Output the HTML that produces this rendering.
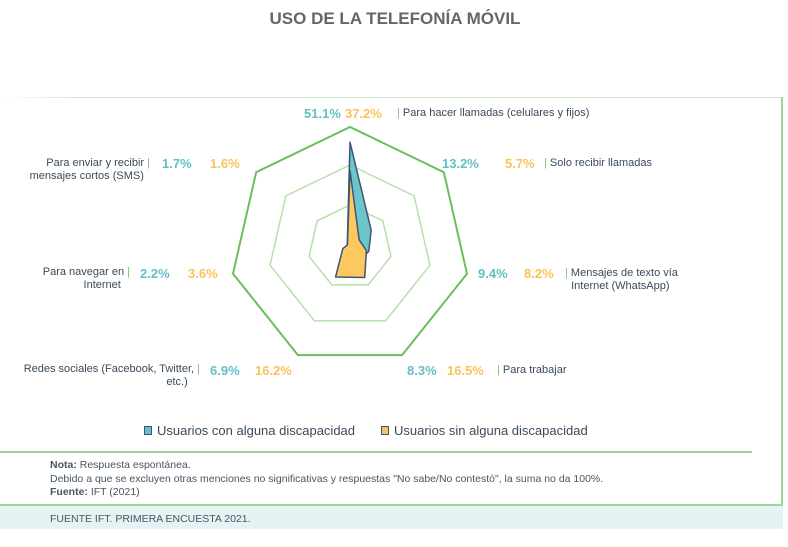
<!DOCTYPE html>
<html><head><meta charset="utf-8"><style>
body{margin:0;width:788px;height:547px;background:#fff;font-family:"Liberation Sans",sans-serif;overflow:hidden;position:relative}
.t{position:absolute;white-space:nowrap;font-size:11px;color:#3a4a5a;line-height:13px}
.p{position:absolute;font-size:13px;font-weight:bold;white-space:nowrap}
.tl{color:#62bfc6}.or{color:#f9c25a}
</style></head><body>
<div style="position:absolute;top:9px;left:0;width:790px;text-align:center;font-size:17px;font-weight:bold;color:#666">USO DE LA TELEFONÍA MÓVIL</div>
<div style="position:absolute;left:0;top:97px;width:782px;height:1px;background:linear-gradient(90deg,#fff,#cfe8cc 10%,#cfe8cc)"></div>
<div style="position:absolute;left:781px;top:97px;width:2px;height:408px;background:#9fd49a"></div>
<div style="position:absolute;left:0;top:451px;width:752px;height:2px;background:#9fd49a"></div>
<div style="position:absolute;left:0;top:504px;width:783px;height:2px;background:#9fd49a"></div>
<div style="position:absolute;left:0;top:506px;width:783px;height:23px;background:#e4f3f3"></div>
<svg id="radar" width="788" height="547" style="position:absolute;left:0;top:0"></svg>

<div class="p tl" style="left:304px;top:106px">51.1%</div><div class="p or" style="left:345px;top:106px">37.2%</div>
<div class="t" style="left:397px;top:107px"><span style="color:#7cc36a">|</span> Para hacer llamadas (celulares y fijos)</div>
<div class="p tl" style="left:442px;top:156px">13.2%</div><div class="p or" style="left:505px;top:156px">5.7%</div>
<div class="t" style="left:544px;top:157px"><span style="color:#7cc36a">|</span> Solo recibir llamadas</div>
<div class="p tl" style="left:478px;top:266px">9.4%</div><div class="p or" style="left:524px;top:266px">8.2%</div>
<div class="t" style="left:565px;top:267px"><span style="color:#7cc36a">|</span> Mensajes de texto vía<br>&nbsp;&nbsp;Internet (WhatsApp)</div>
<div class="p tl" style="left:407px;top:363px">8.3%</div><div class="p or" style="left:447px;top:363px">16.5%</div>
<div class="t" style="left:497px;top:364px"><span style="color:#7cc36a">|</span> Para trabajar</div>
<div class="t" style="right:588px;top:363px;text-align:right">Redes sociales (Facebook, Twitter, <span style="color:#7cc36a">|</span><br>etc.)&nbsp;&nbsp;&nbsp;&nbsp;</div>
<div class="p tl" style="left:210px;top:363px">6.9%</div><div class="p or" style="left:255px;top:363px">16.2%</div>
<div class="t" style="right:658px;top:266px;text-align:right">Para navegar en <span style="color:#7cc36a">|</span><br>Internet&nbsp;&nbsp;&nbsp;</div>
<div class="p tl" style="left:140px;top:266px">2.2%</div><div class="p or" style="left:188px;top:266px">3.6%</div>
<div class="t" style="right:638px;top:157px;text-align:right">Para enviar y recibir <span style="color:#7cc36a">|</span><br>mensajes cortos (SMS)&nbsp;&nbsp;</div>
<div class="p tl" style="left:162px;top:156px">1.7%</div><div class="p or" style="left:210px;top:156px">1.6%</div>

<div style="position:absolute;left:144px;top:423px;font-size:13px;color:#3a4a5a;white-space:nowrap"><span style="display:inline-block;width:6px;height:7px;background:#62bfc6;border:1px solid #3d5677;margin-right:5px"></span>Usuarios con alguna discapacidad</div>
<div style="position:absolute;left:381px;top:423px;font-size:13px;color:#3a4a5a;white-space:nowrap"><span style="display:inline-block;width:6px;height:7px;background:#f9c25a;border:1px solid #3d5677;margin-right:5px"></span>Usuarios sin alguna discapacidad</div>

<div class="t" style="left:50px;top:459px;font-size:10.5px;line-height:13.5px;color:#4a5560"><b>Nota:</b> Respuesta espontánea.<br>Debido a que se excluyen otras menciones no significativas y respuestas "No sabe/No contestó", la suma no da 100%.<br><b>Fuente:</b> IFT (2021)</div>
<div class="t" style="left:50px;top:513px;font-size:10.5px;color:#4a5560">FUENTE IFT. PRIMERA ENCUESTA 2021.</div>

<script>
const categories=["Para hacer llamadas","Solo recibir llamadas","Mensajes de texto vía Internet","Para trabajar","Redes sociales","Para navegar en Internet","SMS"];
const seriesCon=[51.1,13.2,9.4,8.3,6.9,2.2,1.7];
const seriesSin=[37.2,5.7,8.2,16.5,16.2,3.6,1.6];
const ringRadii=[42,82,120];
const cx=350,cy=247,maxV=58.5,R=120;
const NS="http://www.w3.org/2000/svg";
const svg=document.getElementById('radar');
function rScale(v){return v/maxV*R;}
function pt(i,r){const a=-Math.PI/2+i*2*Math.PI/categories.length;return [cx+r*Math.cos(a),cy+r*Math.sin(a)];}
ringRadii.forEach((rr,k)=>{
  const p=document.createElementNS(NS,'polygon');
  p.setAttribute('points',categories.map((c,i)=>pt(i,rr).join(',')).join(' '));
  p.setAttribute('fill','none');
  p.setAttribute('stroke',k==2?'#6abf5a':'#b8e0ac');
  p.setAttribute('stroke-width',k==2?'2':'1.5');
  
  
  svg.appendChild(p);
});
[[seriesCon,'#6cc5c9','series-con-discapacidad'],[seriesSin,'#fdc85e','series-sin-discapacidad']].forEach(s=>{
  const p=document.createElementNS(NS,'polygon');
  p.setAttribute('points',s[0].map((v,i)=>pt(i,rScale(v)).join(',')).join(' '));
  p.setAttribute('fill',s[1]);
  p.setAttribute('stroke','#3d5677');
  p.setAttribute('stroke-width','1.5');
  p.setAttribute('stroke-linejoin','round');
  
  
  svg.appendChild(p);
});
</script>
</body></html>
